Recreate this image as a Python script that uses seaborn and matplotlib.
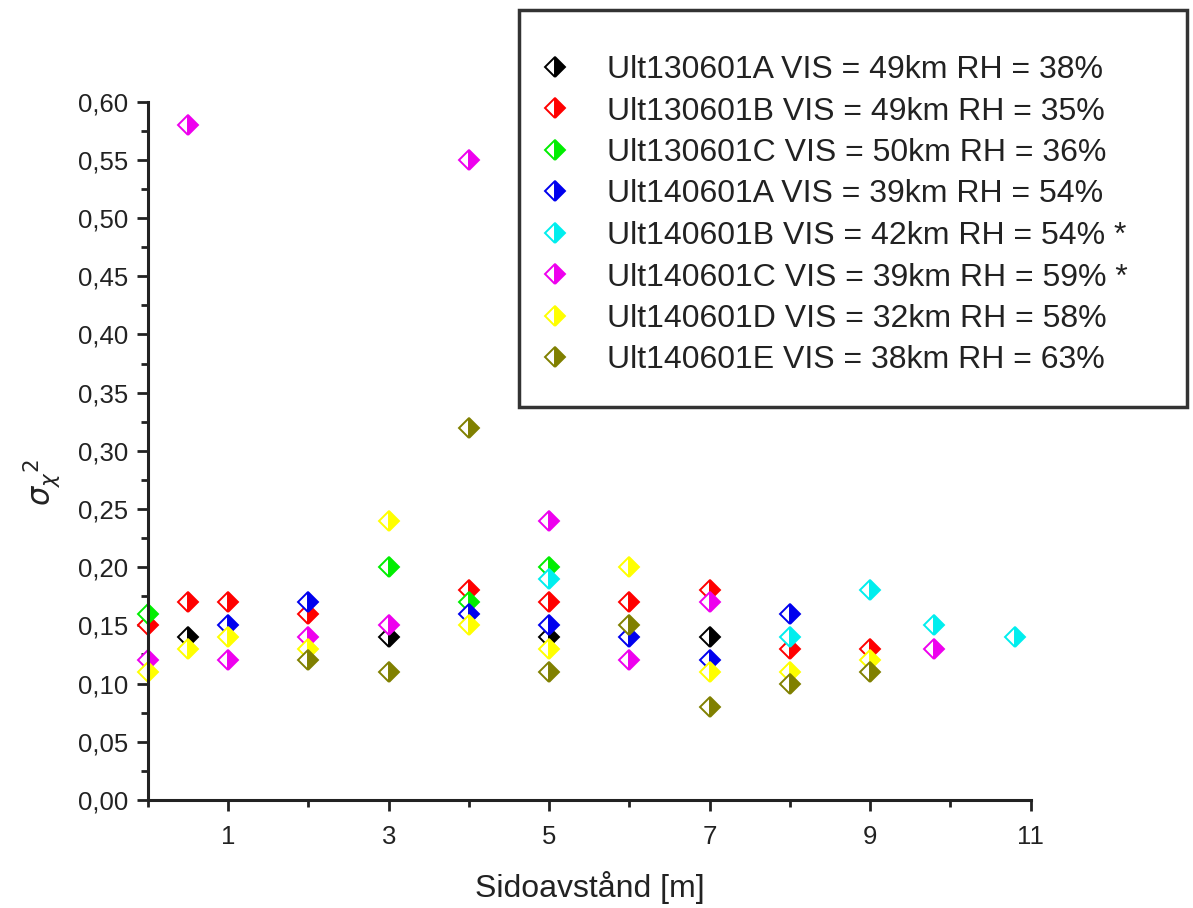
import matplotlib
matplotlib.use("Agg")
import matplotlib.pyplot as plt
import matplotlib.ticker as mticker
from matplotlib.patches import Rectangle
import seaborn as sns
import pandas as pd

# ---- data ----
series_labels = [
    "Ult130601A VIS = 49km RH = 38%",
    "Ult130601B VIS = 49km RH = 35%",
    "Ult130601C VIS = 50km RH = 36%",
    "Ult140601A VIS = 39km RH = 54%",
    "Ult140601B VIS = 42km RH = 54% *",
    "Ult140601C VIS = 39km RH = 59% *",
    "Ult140601D VIS = 32km RH = 58%",
    "Ult140601E VIS = 38km RH = 63%",
]
series_colors = ["#000000", "#ff0000", "#00ee00", "#0000ee",
                 "#00eeee", "#ee00ee", "#ffff00", "#808000"]

x_A = [0.5, 3, 5, 7]
y_A = [0.14, 0.14, 0.14, 0.14]
x_B = [0, 0.5, 1, 2, 4, 5, 6, 7, 8, 9]
y_B = [0.15, 0.17, 0.17, 0.16, 0.18, 0.17, 0.17, 0.18, 0.13, 0.13]
x_C = [0, 3, 4, 5]
y_C = [0.16, 0.20, 0.17, 0.20]
x_D = [1, 2, 4, 5, 6, 7, 8]
y_D = [0.15, 0.17, 0.16, 0.15, 0.14, 0.12, 0.16]
x_E = [5, 8, 9, 9.8, 10.8]
y_E = [0.19, 0.14, 0.18, 0.15, 0.14]
x_F = [0, 0.5, 1, 2, 3, 4, 5, 6, 7, 9.8]
y_F = [0.12, 0.58, 0.12, 0.14, 0.15, 0.55, 0.24, 0.12, 0.17, 0.13]
x_G = [0, 0.5, 1, 2, 3, 4, 5, 6, 7, 8, 9]
y_G = [0.11, 0.13, 0.14, 0.13, 0.24, 0.15, 0.13, 0.20, 0.11, 0.11, 0.12]
x_H = [2, 3, 4, 5, 6, 7, 8, 9]
y_H = [0.12, 0.11, 0.32, 0.11, 0.15, 0.08, 0.10, 0.11]

xs = [x_A, x_B, x_C, x_D, x_E, x_F, x_G, x_H]
ys = [y_A, y_B, y_C, y_D, y_E, y_F, y_G, y_H]

rows = []
for lab, xv, yv in zip(series_labels, xs, ys):
    for a, b in zip(xv, yv):
        rows.append({"x": a, "y": b, "series": lab})
df = pd.DataFrame(rows)

# ---- plot ----
sns.set_style("ticks")
plt.rcParams["font.family"] = ["Liberation Sans", "DejaVu Sans"]
TXT = "#222222"

fig = plt.figure(figsize=(11.93, 9.08), dpi=100)
ax = fig.add_axes([0.124, 0.119, 0.740, 0.769])

sns.lineplot(data=df, x="x", y="y", hue="series", hue_order=series_labels,
             palette=series_colors, estimator=None, sort=False, units="series",
             marker="D", linestyle="", markersize=10, fillstyle="right",
             markerfacecoloralt="white", mew=1.4, legend=False, ax=ax)

for ln, c in zip(ax.lines, series_colors):
    ln.set_markeredgecolor(c)
    ln.set_markerfacecolor(c)
    ln.set_clip_on(False)

ax.set_xlim(0, 11)
ax.set_ylim(0, 0.6)
ax.xaxis.set_major_locator(mticker.FixedLocator([1, 3, 5, 7, 9, 11]))
ax.xaxis.set_minor_locator(mticker.FixedLocator([0, 2, 4, 6, 8, 10]))
ax.yaxis.set_major_locator(mticker.MultipleLocator(0.05))
ax.yaxis.set_minor_locator(mticker.MultipleLocator(0.025))
ax.yaxis.set_major_formatter(mticker.FuncFormatter(lambda v, p: f"{v:.2f}".replace(".", ",")))

sns.despine(ax=ax)
for s in ["left", "bottom"]:
    ax.spines[s].set_linewidth(2.2)
    ax.spines[s].set_color(TXT)
ax.tick_params(which="major", length=8, width=2, labelsize=18.5, color=TXT, labelcolor=TXT)
ax.tick_params(axis="y", which="major", pad=6)
ax.tick_params(axis="x", which="major", pad=10)
ax.tick_params(which="minor", length=5, width=2, color=TXT)

ax.set_xlabel("Sidoavstånd [m]", fontsize=23, color=TXT, labelpad=16)
ax.set_ylabel(r"$\sigma_{\chi}{}^{2}$", fontsize=22, color=TXT)
ax.yaxis.set_label_coords(-0.097, 0.454)

# legend frame (drawn as a rectangle) and entries
fig.patches.append(Rectangle((519 / 1193, 1 - 407 / 908), (1187 - 519) / 1193, (407 - 10) / 908,
                             transform=fig.transFigure, fill=False, edgecolor="#333333",
                             linewidth=2.5, zorder=5))
leg = fig.legend(handles=ax.lines, labels=series_labels, loc="upper left",
                 bbox_to_anchor=(545 / 1193, 1 - 55 / 908), fontsize=23, frameon=False,
                 numpoints=1, handlelength=0.6, handletextpad=1.35, labelspacing=0.36,
                 borderpad=0, borderaxespad=0)
for t in leg.get_texts():
    t.set_color(TXT)

fig.savefig("out.png", dpi=100)
